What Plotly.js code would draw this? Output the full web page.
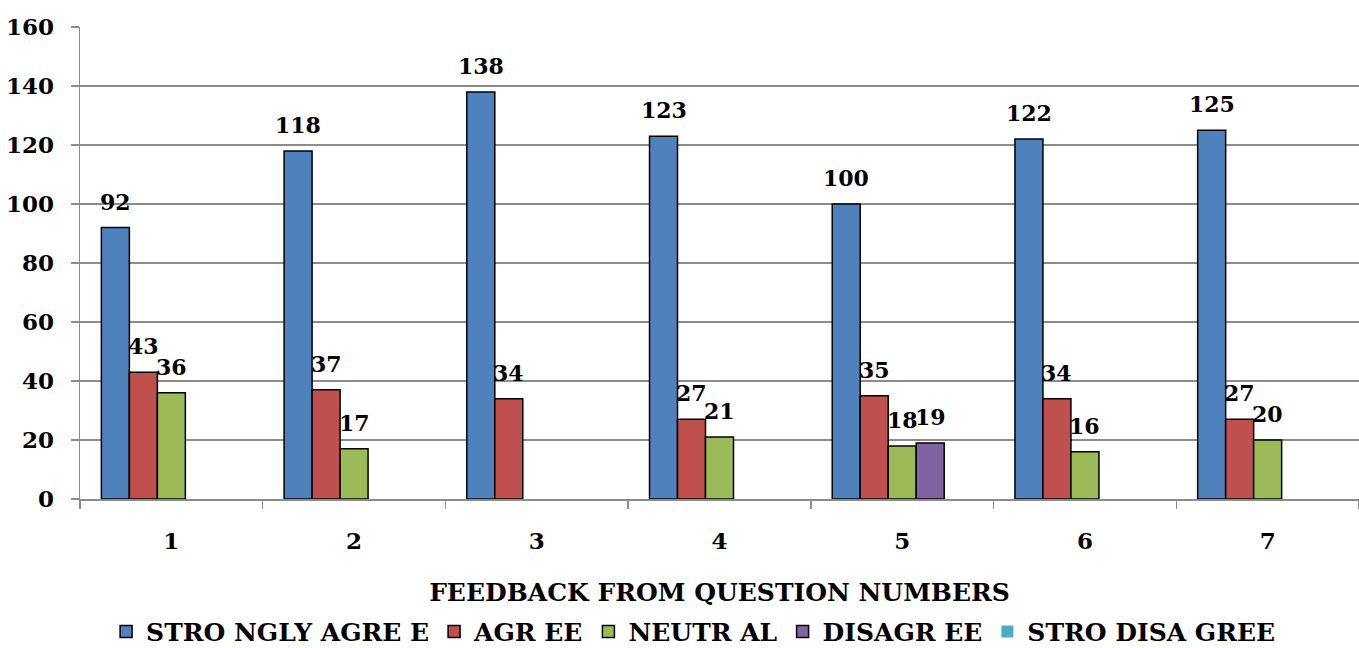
<!DOCTYPE html>
<html>
<head>
<meta charset="utf-8">
<script src="https://cdn.plot.ly/plotly-3.0.1.min.js"></script>
<style>html,body{margin:0;padding:0;background:#fff;}#chart{width:1359px;height:648px;}</style>
</head>
<body>
<div id="chart"></div>
<script>
const categories = ["1", "2", "3", "4", "5", "6", "7"];
const seriesNames = ["STRO NGLY AGRE E", "AGR EE", "NEUTR AL", "DISAGR EE", "STRO DISA GREE"];
const stronglyAgree = [92, 118, 138, 123, 100, 122, 125];
const agree = [43, 37, 34, 27, 35, 34, 27];
const neutral = [36, 17, null, 21, 18, 16, 20];
const disagree = [null, null, null, null, 19, null, null];
const stronglyDisagree = [null, null, null, null, null, null, null];
const yTicks = [0, 20, 40, 60, 80, 100, 120, 140, 160];
const xTitle = "FEEDBACK FROM QUESTION NUMBERS";

const colors = ["#4F81BD", "#C0504D", "#9BBB59", "#8064A2", "#4BACC6"];
const allSeries = [stronglyAgree, agree, neutral, disagree, stronglyDisagree];
const FONT = "DejaVu Serif";

const W = 1359, H = 648;
const margin = {l: 80, r: 0, t: 27, b: 149};
const bargap = 0.234;
const plotW = W - margin.l - margin.r;
const catW = plotW / categories.length;
const barW = catW * (1 - bargap) / allSeries.length;

const traces = allSeries.map((vals, s) => ({
  type: "bar",
  name: seriesNames[s],
  x: categories,
  y: vals,
  marker: {color: colors[s], line: {color: "#000", width: s === 4 ? 0 : 1.5}},
  hoverinfo: "x+y+name"
}));

const annotations = [];
allSeries.forEach((vals, s) => {
  vals.forEach((v, i) => {
    if (v === null || v === undefined) return;
    annotations.push({
      x: i, y: v, xref: "x", yref: "y",
      text: String(v), showarrow: false,
      xanchor: "center", yanchor: "bottom",
      xshift: (s - (allSeries.length - 1) / 2) * barW,
      yshift: 11,
      font: {family: FONT, size: 22, color: "#000", weight: "bold"}
    });
  });
});

const layout = {
  width: W, height: H,
  margin: margin,
  paper_bgcolor: "#fff", plot_bgcolor: "#fff",
  barmode: "group", bargap: bargap, bargroupgap: 0,
  font: {family: FONT, size: 23, color: "#000", weight: "bold"},
  showlegend: true,
  legend: {
    orientation: "h", xref: "container", yref: "container",
    x: 0.51, xanchor: "center", y: 0.025, yanchor: "middle",
    font: {family: FONT, size: 25, color: "#000", weight: "bold"},
    itemwidth: 30, tracegroupgap: 0, traceorder: "normal"
  },
  xaxis: {
    type: "category",
    range: [-0.5, categories.length - 0.5],
    title: {text: xTitle, font: {family: FONT, size: 25, color: "#000", weight: "bold"}, standoff: 30},
    tickson: "boundaries", ticks: "outside", ticklen: 8, tickcolor: "#8c8c8c", tickwidth: 1.5,
    showline: true, linecolor: "#8c8c8c", linewidth: 1.5,
    showgrid: false, ticklabelstandoff: 21,
    tickfont: {family: FONT, size: 23, color: "#000", weight: "bold"},
    fixedrange: true
  },
  yaxis: {
    range: [0, 160], tickvals: yTicks, ticktext: yTicks.map(String),
    ticks: "outside", ticklen: 8, tickcolor: "#8c8c8c", tickwidth: 1.5,
    showline: true, linecolor: "#8c8c8c", linewidth: 1.5,
    showgrid: true, gridcolor: "#8c8c8c", gridwidth: 1.5,
    zeroline: false, ticklabelstandoff: 12,
    tickfont: {family: FONT, size: 23, color: "#000", weight: "bold"},
    fixedrange: true
  },
  annotations: annotations
};

Plotly.newPlot("chart", traces, layout, {displayModeBar: false, staticPlot: true});
</script>
</body>
</html>
